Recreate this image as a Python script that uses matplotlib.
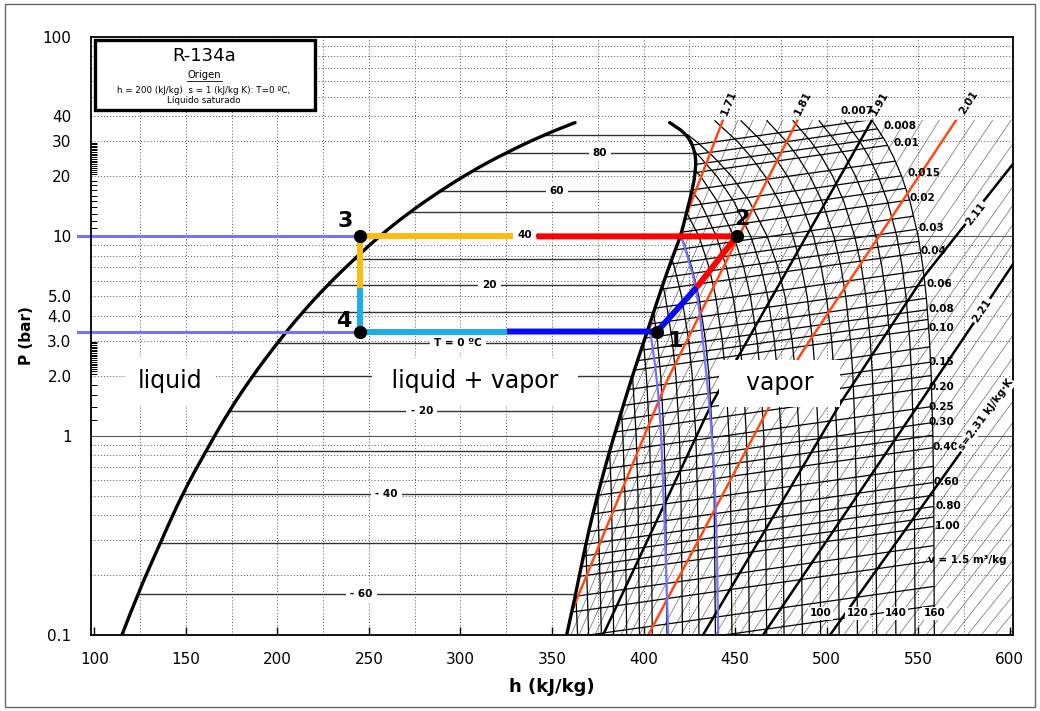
import numpy as np
import matplotlib.pyplot as plt
from matplotlib.patches import Rectangle, Polygon, PathPatch
from matplotlib.path import Path
from matplotlib.ticker import FixedLocator, NullFormatter

nan = np.nan

# ---------------- saturation dome, every 10 °C from -60 to 90 °C ----------------
sat_T = [-60, -50, -40, -30, -20, -10, 0, 10, 20, 30, 40, 50, 60, 70, 80, 90]
sat_p = [0.16, 0.29, 0.51, 0.84, 1.33, 2.0, 2.93, 4.15, 5.72, 7.7, 10.17, 13.18, 16.8, 21.2, 26.3, 32.4]
liq_h = [123.5, 136, 148, 161, 173.5, 186.5, 200, 213.5, 227.5, 242, 256.5, 272, 288.5, 306, 325, 346]
vap_h = [363, 368.5, 375, 381.5, 388, 394, 400, 405.5, 410.5, 415.5, 420.5, 423.5, 426.5, 428.5, 428.5, 424]
# ends of the two curves (chart bottom and where the drawing stops at the top)
liq_end_h = [115, 362.6]
vap_end_h = [358, 414.3]
end_p = [0.1, 37.2]

# labels on the two-phase isotherms
dome_label_T = [80, 60, 40, 20, 0, -20, -40, -60]
dome_label_text = ['80', '60', '40', '20', 'T = 0 ºC', '- 20', '- 40', '- 60']
dome_label_h = [376.2, 352.7, 335.2, 315.8, 298.8, 278.8, 259.6, 246.0]

# ---------------- superheated isotherms: h at fixed pressures ----------------
iso_grid_p = [38, 30, 25, 20, 15, 10, 7, 5, 3, 2, 1, 0.5, 0.1]
iso_T = [-60, -50, -40, -30, -20, -10, 0, 10, 20, 30, 40, 50, 60, 70, 80, 90,
         100, 110, 120, 130, 140, 150, 160]
iso_h = [
    [nan] * 12 + [364.0],
    [nan] * 12 + [370.0],
    [nan] * 12 + [377.0],
    [nan] * 11 + [382.5, 383.7],
    [nan] * 10 + [388.7, 389.9, 390.8],
    [nan] * 10 + [396.0, 397.0, 397.8],
    [nan] * 9 + [401.6, 403.3, 404.1, 404.8],
    [nan] * 8 + [407.6, 409.4, 411.2, 412.1, 412.8],
    [nan] * 7 + [411.9, 415.7, 417.7, 419.6, 420.5, 421.3],
    [nan] * 6 + [416.9, 420.8, 424.7, 426.6, 428.6, 429.5, 430.3],
    [nan] * 5 + [420.8, 426.4, 430.2, 433.9, 435.8, 437.6, 438.6, 439.3],
    [nan] * 5 + [430.3, 435.8, 439.4, 443.0, 444.9, 446.7, 447.6, 448.3],
    [nan] * 4 + [430.8, 439.8, 445.3, 448.9, 452.6, 454.4, 456.2, 457.1, 457.8],
    [nan] * 3 + [431.2, 440.3, 449.3, 454.8, 458.4, 462.1, 463.9, 465.7, 466.6, 467.3],
    [nan] * 2 + [430.9, 440.1, 449.3, 458.6, 464.1, 467.8, 471.5, 473.3, 475.2, 476.1, 476.8],
    [nan] + [428.7, 438.4, 448.1, 457.8, 467.6, 473.4, 477.3, 481.2, 483.1, 485.1, 486.0, 486.8],
    [439.0, 451.2, 458.8, 466.5, 474.1, 481.7, 486.3, 489.4, 492.4, 494.0, 495.5, 496.2, 496.8],
    [453.3, 464.6, 471.7, 478.7, 485.8, 492.9, 497.1, 499.9, 502.8, 504.2, 505.6, 506.3, 506.9],
    [467.5, 477.9, 484.4, 491.0, 497.5, 504.0, 507.9, 510.5, 513.1, 514.4, 515.7, 516.3, 516.9],
    [481.7, 491.3, 497.4, 503.4, 509.4, 515.4, 519.1, 521.5, 523.9, 525.1, 526.3, 526.9, 527.4],
    [496.0, 504.8, 510.4, 515.9, 521.4, 527.0, 530.3, 532.5, 534.7, 535.8, 536.9, 537.4, 537.9],
    [510.0, 518.1, 523.2, 528.2, 533.3, 538.4, 541.4, 543.4, 545.5, 546.5, 547.5, 548.0, 548.4],
    [525.0, 532.2, 536.6, 541.1, 545.6, 550.1, 552.7, 554.5, 556.3, 557.2, 558.1, 558.6, 558.9],
]
iso_label_T = [100, 120, 140, 160]
iso_label_p = 0.1285

# ---------------- specific volume lines (P at h = 360 and h = 560) ----------------
vol_v = [0.007, 0.008, 0.009, 0.01, 0.0125, 0.015, 0.0175, 0.02, 0.025, 0.03, 0.035, 0.04,
         0.05, 0.06, 0.07, 0.08, 0.09, 0.10, 0.125, 0.15, 0.175, 0.20, 0.25, 0.30, 0.35, 0.40,
         0.50, 0.60, 0.70, 0.80, 0.90, 1.00, 1.25, 1.50, 2.00, 2.50]
vol_p_left = [23.5, 21.0, 18.7, 17.0, 14.0, 11.7, 10.1, 8.75, 7.2, 6.16, 5.34, 4.68,
              3.8, 3.19, 2.73, 2.39, 2.13, 1.92, 1.55, 1.30, 1.11, 0.97, 0.775, 0.645, 0.555, 0.48,
              0.39, 0.32, 0.278, 0.244, 0.216, 0.194, 0.155, 0.130, 0.097, 0.078]
vol_p_right = [42.8, 38.1, 34.0, 31.0, 25.5, 21.3, 18.3, 15.9, 13.1, 11.2, 9.7, 8.5,
               6.9, 5.8, 4.97, 4.35, 3.88, 3.49, 2.82, 2.36, 2.02, 1.76, 1.41, 1.17, 1.01, 0.875,
               0.705, 0.585, 0.505, 0.443, 0.392, 0.352, 0.282, 0.237, 0.176, 0.141]
vol_label_text = ['0.007', '0.008', '0.01', '0.015', '0.02', '0.03', '0.04', '0.06', '0.08', '0.10',
                  '0.15', '0.20', '0.25', '0.30', '0.40', '0.60', '0.80', '1.00', 'v = 1.5 m³/kg']
vol_label_h = [507.4, 530.9, 536.4, 544.0, 545.6, 550.0, 551.1, 554.9, 555.5, 555.5,
               555.5, 555.5, 555.5, 555.5, 557.7, 558.2, 559.3, 559.3, 555.5]
vol_label_p = [42.6, 35.8, 29.4, 20.8, 15.6, 11.0, 8.47, 5.79, 4.34, 3.48,
               2.35, 1.75, 1.40, 1.165, 0.873, 0.583, 0.442, 0.351, 0.237]

# ---------------- isentropes ----------------
s_main = ['1.71', '1.81', '1.91', '2.01', '2.11', '2.21', '2.31']
s_main_h = [[421.5, 443.5],
            [356.0, 361.5, 412.9, 448.9, 484.3],
            [377.9, 437.3, 525.0],
            [402.6, 469.1, 487.2, 571.0],
            [432.5, 508.5, 552.7, 600.3, 621.0],
            [465.3, 574.0, 605.0],
            [501.9, 605.0]]
s_main_p = [[11.5, 38.5],
            [0.1, 0.136, 1.89, 8.77, 38.5],
            [0.1, 1.45, 38.5],
            [0.1, 1.42, 2.67, 38.5],
            [0.1, 1.5, 6.2, 22.1, 38.5],
            [0.1, 3.0, 8.0],
            [0.1, 2.1]]
s_main_red = [True, True, False, True, False, False, False]
# thin isentropes in between: h at 0.1, 1 and 38.5 bar
thin_p = [0.1, 1.0, 38.5]
thin_h_low = [334.9, 340.2, 345.5, 350.8, 360.4, 364.8, 369.1, 373.5, 382.8, 387.8, 392.7, 397.7,
              408.6, 414.6, 420.5, 426.5, 439.1, 445.6, 452.2, 458.7, 472.6, 479.9, 487.2, 494.6,
              509.5, 517, 524.5, 532, 539.5, 547, 554.5, 562, 569.5, 577, 584.5, 592, 599.5]
thin_h_mid = [379, 384.4, 389.7, 395.1, 406.2, 411.9, 417.6, 423.4, 435.3, 441.6, 447.8, 454.1,
              467.7, 475, 482.4, 489.7, 505.5, 513.8, 522.2, 530.5, 547.1, 555.3, 563.5, 571.7,
              588, 596.5, 605, 613.5, 622, 630.5, 639, 647.5, 656, 664.5, 673, 681.5, 690]
thin_h_top = [451.7, 459.9, 468, 476.2, 492.4, 500.5, 508.6, 516.8, 534.2, 543.4, 552.6, 561.8,
              581, 591, 601.1, 611.1, 627.8, 634.6, 641.3, 648, 664.5, 674.2, 684, 693.8,
              715, 723.5, 732, 740.5, 749, 757.5, 766, 774.5, 783, 791.5, 800, 808.5, 817]

# ---------------- refrigeration cycle, states 1-4 ----------------
cyc_h = [407.4, 450.9, 245.1, 245.1]
cyc_p = [3.33, 10.0, 10.0, 3.33]
comp_split = (429.1, 5.55)      # colour change along the compression
cond_gap_h = [341.5, 328.9]     # condenser line broken around the "40" label
valve_split_p = 5.5
evap_split_h = 325.2
state_label_h = [417.2, 453.6, 236.9, 236.0]
state_label_p = [3.0, 12.2, 12.0, 3.78]

# two isotherms through the cycle pressures
pw_a_h = [403.6, 408.1, 410.8, 413.5]
pw_a_p = [3.33, 1.89, 0.6, 0.1]
pw_b_h = [421.0, 425.0, 429.6, 434.0, 436.8, 439.6, 440.8]
pw_b_p = [9.7, 7.5, 5.16, 2.2, 1.2, 0.5, 0.1]

ytick_vals = [0.1, 1, 2, 3, 4, 5, 10, 20, 30, 40, 100]
ytick_text = ['0.1', '1', '2.0', '3.0', '4.0', '5.0', '10', '20', '30', '40', '100']

RED_S = '#ff4a14'
PERI = '#7474ff'


def smooth_curve(hs, ps, **kw):
    """Quadratic Bezier through the mid-points, so the read points act as controls."""
    verts = [(hs[0], ps[0])]
    codes = [Path.MOVETO]
    for i in range(1, len(hs) - 1):
        mid = ((hs[i] + hs[i + 1]) / 2, np.sqrt(ps[i] * ps[i + 1]))
        verts += [(hs[i], ps[i]), mid]
        codes += [Path.CURVE3, Path.CURVE3]
    verts.append((hs[-1], ps[-1]))
    codes.append(Path.LINETO)
    return PathPatch(Path(verts, codes), fill=False, transform=ax.transData, **kw)


fig = plt.figure(figsize=(10.4, 7.11), dpi=100)
ax = fig.add_axes([91 / 1040, 1 - 635 / 711, 922 / 1040, 598 / 711])
ax.set_yscale('log')
ax.set_xlim(98.1, 601.9)
ax.set_ylim(0.1, 100)

# grid
dotted = dict(color='#505050', lw=0.7, ls=(0, (1, 2.2)), zorder=0.5)
for h in range(125, 600, 25):
    ax.axvline(h, **dotted)
for d in (0.1, 1, 10):
    for m in range(2, 10):
        ax.axhline(d * m, **dotted)
for p in (1, 10):
    ax.axhline(p, color='#555555', lw=0.8, zorder=0.6)

# saturated liquid and vapour lines
curve_p = [end_p[0]] + sat_p + [end_p[1]]
liq_curve_h = [liq_end_h[0]] + liq_h + [liq_end_h[1]]
vap_curve_h = [vap_end_h[0]] + vap_h + [vap_end_h[1]]
ax.add_patch(smooth_curve(liq_curve_h, curve_p, ec='black', lw=2.4, zorder=2, capstyle='round'))
ax.add_patch(smooth_curve(vap_curve_h, curve_p, ec='black', lw=2.4, zorder=2, capstyle='round'))

# horizontal isotherms inside the dome
for p, hl, hv in zip(sat_p, liq_h, vap_h):
    ax.plot([hl, hv], [p, p], color='#333333', lw=1.0, zorder=1)
for T, txt, h in zip(dome_label_T, dome_label_text, dome_label_h):
    p = sat_p[sat_T.index(T)]
    ax.text(h, p, txt, ha='center', va='center', fontsize=7.5, fontweight='bold', zorder=3.5,
            bbox=dict(fc='white', ec='none', pad=3))

# clip regions: superheated side, and the tabulated mesh up to 160 °C
t160 = iso_h[-1]
mesh = Polygon(np.column_stack([vap_curve_h + [vap_end_h[1]] + t160,
                                curve_p + [iso_grid_p[0]] + iso_grid_p]),
               closed=True, transform=ax.transData)
superheat = Polygon(np.column_stack([vap_curve_h + [vap_end_h[1], 700, 700, vap_end_h[0]],
                                     curve_p + [38.5, 38.5, 0.05, 0.05]]),
                    closed=True, transform=ax.transData)

# isotherms in the vapour region
for T, row in zip(iso_T, iso_h):
    hs = [h for h in row if not np.isnan(h)]
    ps = [p for h, p in zip(row, iso_grid_p) if not np.isnan(h)]
    if T in sat_T:
        i = sat_T.index(T)
        hs = [vap_h[i]] + hs
        ps = [sat_p[i]] + ps
    ax.plot(hs, ps, color='black', lw=0.9, zorder=1.2)
for T in iso_label_T:
    h = iso_h[iso_T.index(T)][-1]
    ax.text(h, iso_label_p, str(T), ha='center', va='center', fontsize=7.5, fontweight='bold',
            zorder=6, bbox=dict(fc='white', ec='none', pad=1))

# constant specific volume
for pl, pr in zip(vol_p_left, vol_p_right):
    ln, = ax.plot([360, 560], [pl, pr], color='black', lw=0.9, zorder=1.2)
    ln.set_clip_path(mesh)
for txt, h, p in zip(vol_label_text, vol_label_h, vol_label_p):
    ax.text(h, p, txt, ha='left', va='center', fontsize=7.5, fontweight='bold', zorder=6)

# isentropes
for hl, hm, ht in zip(thin_h_low, thin_h_mid, thin_h_top):
    ln, = ax.plot([hl, hm, ht], thin_p, color='#777777', lw=0.55, zorder=1.1)
    ln.set_clip_path(superheat)
for name, hs, ps, red in zip(s_main, s_main_h, s_main_p, s_main_red):
    ln, = ax.plot(hs, ps, color=RED_S if red else 'black', lw=1.8, zorder=1.5)
    ln.set_clip_path(superheat)
top_offsets = [(4, 12), (4, 12), (5, 12), (9, 12)]
top_rot = [68, 63, 60, 57]
for k in range(4):
    ax.annotate(s_main[k], (s_main_h[k][-1], s_main_p[k][-1]), xytext=top_offsets[k],
                textcoords='offset points', ha='center', va='center', rotation=top_rot[k],
                fontsize=7.5, fontweight='bold', zorder=6)
ax.text(581.5, 13.0, '2.11', rotation=52, ha='center', va='center', fontsize=7.5,
        fontweight='bold', zorder=6, bbox=dict(fc='white', ec='none', pad=1))
ax.text(584.9, 4.24, '2.21', rotation=56, ha='center', va='center', fontsize=7.5,
        fontweight='bold', zorder=6, bbox=dict(fc='white', ec='none', pad=1))
ax.text(587.0, 1.27, 's=2.31 kJ/kg·K', rotation=54, ha='center', va='center', fontsize=7.5,
        fontweight='bold', zorder=6, bbox=dict(fc='white', ec='none', pad=1))

# region names
region = dict(ha='center', va='center', fontsize=17, zorder=3,
              bbox=dict(boxstyle='square,pad=0.5', fc='white', ec='none'))
ax.text(141.3, 1.87, 'liquid', **region)
ax.text(308.0, 1.87, ' liquid + vapor ', **region)
ax.text(474.5, 1.83, '  vapor  ', **region)

# isotherms through the cycle
ax.add_patch(smooth_curve(pw_a_h, pw_a_p, ec=PERI, lw=1.6, zorder=2.5))
ax.add_patch(smooth_curve(pw_b_h, pw_b_p, ec=PERI, lw=1.6, zorder=2.5))
ax.plot([91.0, cyc_h[2]], [cyc_p[2], cyc_p[2]], color=PERI, lw=2.2, zorder=2.5, clip_on=False)
ax.plot([91.0, cyc_h[3]], [cyc_p[3], cyc_p[3]], color=PERI, lw=2.2, zorder=2.5, clip_on=False)

# cycle
seg = dict(lw=4.3, zorder=4, solid_capstyle='butt', solid_joinstyle='miter')
ax.plot([evap_split_h, cyc_h[0], comp_split[0]], [cyc_p[3], cyc_p[0], comp_split[1]],
        color='#0a0af5', **seg)
ax.plot([comp_split[0], cyc_h[1], cond_gap_h[0]], [comp_split[1], cyc_p[1], cyc_p[1]],
        color='#ff0000', **seg)
ax.plot([cond_gap_h[1], cyc_h[2], cyc_h[2]], [cyc_p[2], cyc_p[2], valve_split_p],
        color='#fbbd12', **seg)
ax.plot([cyc_h[3], cyc_h[3], evap_split_h], [valve_split_p, cyc_p[3], cyc_p[3]],
        color='#1cafe6', **seg)
ax.plot(cyc_h, cyc_p, 'o', color='black', ms=8.5, zorder=5)
for k in range(4):
    ax.text(state_label_h[k], state_label_p[k], str(k + 1), ha='center', va='center',
            fontsize=16, fontweight='bold', zorder=6)

# title box
ax.add_patch(Rectangle((0.0043, 0.878), 0.2387, 0.117, transform=ax.transAxes,
                       fc='white', ec='black', lw=2.4, zorder=7))
cx = 0.1226
ax.text(cx, 0.968, 'R-134a', transform=ax.transAxes, ha='center', va='center',
        fontsize=13, zorder=8)
ax.text(cx, 0.936, 'Origen', transform=ax.transAxes, ha='center', va='center',
        fontsize=7.2, zorder=8)
ax.plot([cx - 0.019, cx + 0.019], [0.926, 0.926], transform=ax.transAxes,
        color='black', lw=0.6, zorder=8)
ax.text(cx, 0.910, 'h = 200 (kJ/kg)  s = 1 (kJ/kg K): T=0 ºC,', transform=ax.transAxes,
        ha='center', va='center', fontsize=6.3, zorder=8)
ax.text(cx, 0.893, 'Líquido saturado', transform=ax.transAxes, ha='center', va='center',
        fontsize=6.3, zorder=8)

# axes
ax.set_xticks(range(100, 601, 50))
ax.tick_params(axis='x', direction='in', length=6, width=1, pad=12, labelsize=11)
ax.set_yticks(ytick_vals)
ax.set_yticklabels(ytick_text)
ax.yaxis.set_minor_locator(FixedLocator(
    list(np.arange(1.2, 2.0, 0.2)) + list(np.arange(2.05, 3.0, 0.05)) +
    list(range(11, 20)) + list(np.arange(20.5, 30, 0.5))))
ax.yaxis.set_minor_formatter(NullFormatter())
ax.tick_params(axis='y', which='major', length=0, pad=14, labelsize=11)
ax.tick_params(axis='y', which='minor', direction='in', length=4, width=0.7)
for sp in ax.spines.values():
    sp.set_linewidth(1.3)
ax.set_xlabel('h (kJ/kg)', fontsize=13, fontweight='bold', labelpad=8)
ax.set_ylabel('P (bar)', fontsize=11, fontweight='bold', labelpad=6)

fig.patches.append(Rectangle((0.005, 0.005), 0.99, 0.99, transform=fig.transFigure,
                             fill=False, ec='#666666', lw=1))

fig.savefig('out.png', dpi=100)
